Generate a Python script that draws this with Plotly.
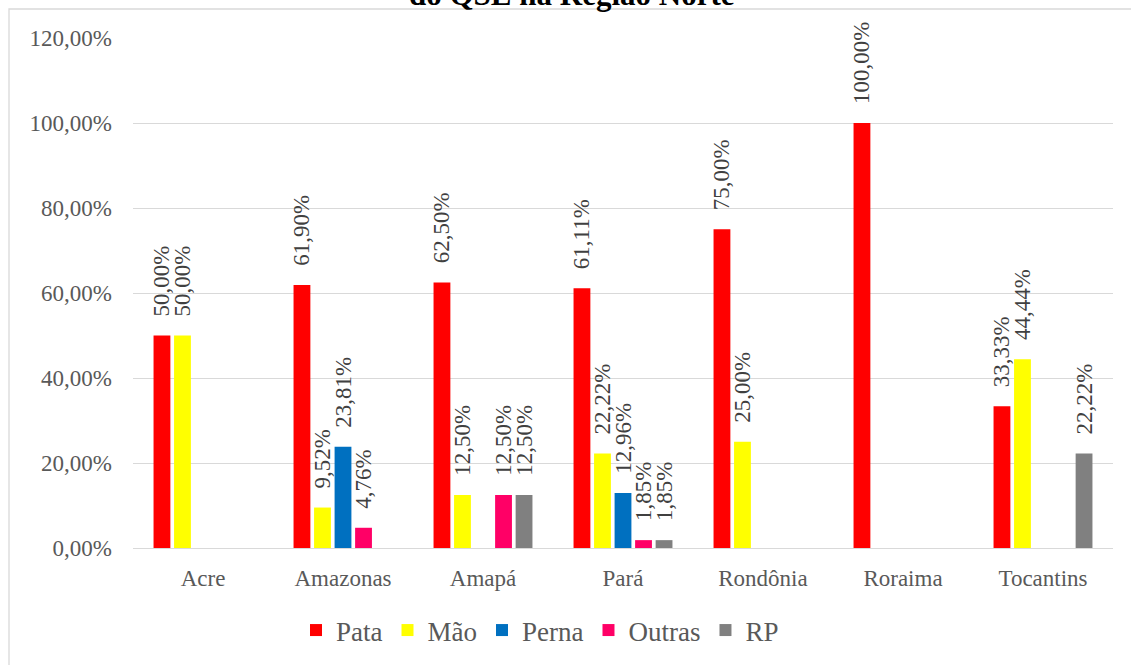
import plotly.graph_objects as go

categories = ["Acre", "Amazonas", "Amapá", "Pará", "Rondônia", "Roraima", "Tocantins"]
series_names = ["Pata", "Mão", "Perna", "Outras", "RP"]
pata = [50.00, 61.90, 62.50, 61.11, 75.00, 100.00, 33.33]
mao = [50.00, 9.52, 12.50, 22.22, 25.00, None, 44.44]
perna = [None, 23.81, None, 12.96, None, None, None]
outras = [None, 4.76, 12.50, 1.85, None, None, None]
rp = [None, None, 12.50, 1.85, None, None, 22.22]
colors = ["#FF0000", "#FFFF00", "#0070C0", "#FF0066", "#808080"]
title_text = "do QSE na Região Norte"

W, H = 1131, 665
L, R, T, B = 133, 18, 38, 117
pw, ph = W - L - R, H - T - B

FONT = "Liberation Serif, serif"

fig = go.Figure()
for name, vals, col in zip(series_names, [pata, mao, perna, outras, rp], colors):
    fig.add_trace(go.Bar(
        name=name,
        x=categories,
        y=[v / 100 if v is not None else None for v in vals],
        marker=dict(color=col, line=dict(width=0)),
        texttemplate="\u00a0\u00a0\u2009%{y:.2%}",
        textposition="outside",
        textangle=-90,
        constraintext="none",
        cliponaxis=False,
        textfont=dict(family=FONT, size=23, color="#404040"),
        outsidetextfont=dict(family=FONT, size=23, color="#404040"),
        hoverinfo="skip",
    ))

def px_to_paper_x(px):
    return (px - L) / pw

def px_to_paper_y(py):
    return (H - B - py) / ph

fig.update_layout(
    width=W, height=H,
    font=dict(family=FONT, color="#595959"),
    margin=dict(l=L, r=R, t=T, b=B, autoexpand=False),
    paper_bgcolor="white",
    plot_bgcolor="white",
    separators=",.",
    barmode="group",
    bargap=0.267,
    bargroupgap=0.18,
    showlegend=True,
    legend=dict(
        orientation="h",
        x=px_to_paper_x(540), xanchor="center",
        y=px_to_paper_y(606), yanchor="top",
        font=dict(family=FONT, size=27, color="#595959"),
        itemwidth=30,
        traceorder="normal",
    ),
    xaxis=dict(
        type="category",
        showgrid=False,
        showline=False,
        ticks="",
        ticklabelstandoff=14,
        tickfont=dict(family=FONT, size=23, color="#595959"),
    ),
    yaxis=dict(
        range=[0, 1.2],
        dtick=0.2,
        tickformat=".2%",
        showgrid=True,
        gridcolor="#D9D9D9",
        gridwidth=1.3,
        zeroline=True,
        zerolinecolor="#D9D9D9",
        zerolinewidth=1.3,
        showline=False,
        ticks="",
        ticklabelstandoff=20,
        tickfont=dict(family=FONT, size=23, color="#595959"),
    ),
    shapes=[dict(
        type="rect", xref="paper", yref="paper",
        x0=px_to_paper_x(9), x1=px_to_paper_x(1140),
        y0=px_to_paper_y(680), y1=px_to_paper_y(9),
        line=dict(color="#D9D9D9", width=1.3),
        fillcolor="rgba(0,0,0,0)",
        layer="below",
    )],
    annotations=[dict(
        text="<b>" + title_text + "</b>",
        xref="paper", yref="paper",
        x=px_to_paper_x(572), xanchor="center",
        y=px_to_paper_y(14), yanchor="bottom",
        showarrow=False,
        font=dict(family=FONT, size=31, color="black"),
    )],
)

fig.write_html(
    "out.html",
    config={"displayModeBar": False},
    post_script="document.body.style.margin='0';document.body.style.overflow='hidden';",
)
